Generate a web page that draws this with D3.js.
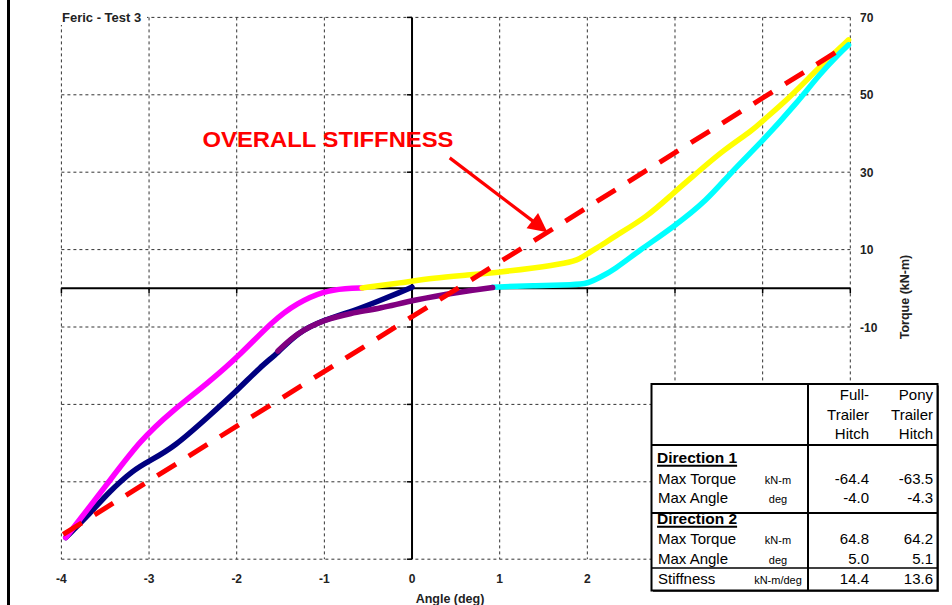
<!DOCTYPE html>
<html>
<head>
<meta charset="utf-8">
<script src="https://cdn.jsdelivr.net/npm/d3@7"></script>
<style>
  html, body { margin: 0; padding: 0; background: #fff; }
  svg { display: block; font-family: Arial, "Liberation Sans", sans-serif; }
</style>
</head>
<body>
<svg id="chart" width="952" height="605"></svg>
<script>
// ---------------- DATA ----------------
const chartTitle = "Feric - Test 3";
const xAxisTitle = "Angle (deg)";
const yAxisTitle = "Torque (kN-m)";
const xTickLabels = [-4, -3, -2, -1, 0, 1, 2];
const yTickLabels = [70, 50, 30, 10, -10];
const xGridValues = [-4, -3, -2, -1, 1, 2, 3, 4, 5];
const yGridValues = [70, 50, 30, 10, -10, -30, -50, -70];

// Direction 1 loading (navy)
const navyX = [0.0, -0.13, -0.44, -0.70, -1.01, -1.31, -1.53, -1.73, -1.99, -2.33, -2.72, -2.98, -3.18, -3.47, -3.67, -3.95];
const navyY = [0.3, -1.0, -3.8, -6.1, -8.2, -11.5, -16.7, -20.3, -26.3, -33.3, -41.1, -44.4, -46.9, -52.9, -58.1, -64.4];
// Direction 1 unloading (magenta)
const magentaX = [-3.95, -3.47, -3.10, -2.72, -2.33, -1.96, -1.58, -1.31, -1.01, -0.75, -0.57];
const magentaY = [-64.4, -50.4, -39.2, -31.4, -24.5, -17.2, -8.2, -3.8, -0.7, 0.0, 0.1];
// Direction 2 loading (yellow)
const yellowX = [-0.57, -0.13, 0.25, 0.63, 1.01, 1.38, 1.77, 1.92, 2.03, 2.15, 2.30, 2.68, 2.98, 3.25, 3.55, 3.89, 4.01, 4.28, 4.58, 4.77, 4.98];
const yellowY = [0.1, 1.4, 2.7, 3.4, 4.2, 5.2, 6.5, 7.6, 9.4, 10.9, 13.3, 18.4, 24.6, 29.8, 35.7, 40.9, 43.5, 48.7, 55.6, 59.8, 64.2];
// Direction 2 unloading (cyan)
const cyanX = [4.98, 4.88, 4.66, 4.39, 4.01, 3.63, 3.37, 2.98, 2.60, 2.30, 2.15, 2.00, 1.86, 1.38, 0.92];
const cyanY = [62.9, 60.8, 55.6, 47.9, 38.3, 29.8, 22.8, 15.8, 9.9, 4.7, 2.9, 1.2, 0.9, 0.7, 0.3];
// Reloading (purple)
const purpleX = [0.92, 0.55, 0.02, -0.36, -0.70, -1.01, -1.31, -1.53];
const purpleY = [0.2, -0.9, -3.0, -5.2, -6.4, -8.2, -11.5, -16.2];
// Overall stiffness line (red dashed)
const overallX = [-3.98, 4.95];
const overallY = [-63.6, 62.6];

// Annotation
const annotationText = "OVERALL STIFFNESS";
const annotationAt = [-2.39, 36.4];
const arrowFrom = [0.43, 33.7];
const arrowTo = [1.545, 14.5];

// Table
const tableHeaders = [["Full-", "Trailer", "Hitch"], ["Pony", "Trailer", "Hitch"]];
const tableRows = [
  { label: "Direction 1", section: true },
  { label: "Max Torque", unit: "kN-m", full: "-64.4", pony: "-63.5" },
  { label: "Max Angle", unit: "deg", full: "-4.0", pony: "-4.3" },
  { label: "Direction 2", section: true },
  { label: "Max Torque", unit: "kN-m", full: "64.8", pony: "64.2" },
  { label: "Max Angle", unit: "deg", full: "5.0", pony: "5.1" },
  { label: "Stiffness", unit: "kN-m/deg", full: "14.4", pony: "13.6" }
];

// ---------------- DRAW ----------------
const svg = d3.select("#chart");
const x = d3.scaleLinear().domain([-4, 5]).range([61.4, 850.3]);
const y = d3.scaleLinear().domain([-70, 70]).range([559.2, 17.4]);

// left frame line
svg.append("rect").attr("x", 7).attr("y", 0).attr("width", 3).attr("height", 605).attr("fill", "#000");

// grid
const grid = svg.append("g").attr("stroke", "#333").attr("stroke-width", 1).attr("stroke-dasharray", "3,3");
grid.selectAll("line.v").data(xGridValues).join("line")
  .attr("x1", d => x(d)).attr("x2", d => x(d)).attr("y1", y(70)).attr("y2", y(-70));
grid.selectAll("line.h").data(yGridValues).join("line")
  .attr("x1", x(-4)).attr("x2", x(5)).attr("y1", d => y(d)).attr("y2", d => y(d));

// axes through zero
const axes = svg.append("g").attr("stroke", "#000").attr("stroke-width", 2);
axes.append("line").attr("x1", x(-4)).attr("x2", x(5)).attr("y1", y(0)).attr("y2", y(0));
axes.append("line").attr("x1", x(0)).attr("x2", x(0)).attr("y1", y(70)).attr("y2", y(-70));
axes.selectAll("line.tx").data(d3.range(-4, 6)).join("line")
  .attr("stroke-width", 1.5)
  .attr("x1", d => x(d)).attr("x2", d => x(d)).attr("y1", y(0)).attr("y2", y(0) + 5);
axes.selectAll("line.ty").data(yGridValues).join("line")
  .attr("stroke-width", 1.5)
  .attr("x1", x(0) - 5).attr("x2", x(0)).attr("y1", d => y(d)).attr("y2", d => y(d));

// tick labels
svg.append("g").selectAll("text").data(xTickLabels).join("text")
  .attr("x", d => x(d)).attr("y", 583).attr("text-anchor", "middle")
  .attr("font-size", 12).attr("font-weight", "bold").attr("fill", "#222")
  .text(d => d);
svg.append("g").selectAll("text").data(yTickLabels).join("text")
  .attr("x", 860).attr("y", d => y(d) + 4.5).attr("text-anchor", "start")
  .attr("font-size", 12).attr("font-weight", "bold").attr("fill", "#222")
  .text(d => d);

// axis titles
svg.append("text").attr("x", 450).attr("y", 603).attr("text-anchor", "middle")
  .attr("font-size", 12.5).attr("font-weight", "bold").attr("fill", "#222").text(xAxisTitle);
svg.append("text").attr("transform", "translate(909,297) rotate(-90)").attr("text-anchor", "middle")
  .attr("font-size", 12.5).attr("font-weight", "bold").attr("fill", "#222").text(yAxisTitle);

// title
svg.append("rect").attr("x", 59).attr("y", 8).attr("width", 88).attr("height", 17).attr("fill", "#fff");
svg.append("text").attr("x", 62).attr("y", 21.5).attr("font-size", 13).attr("font-weight", "bold")
  .attr("fill", "#222").text(chartTitle);

// curves
const line = d3.line().x(d => x(d[0])).y(d => y(d[1])).curve(d3.curveBasis);
const series = [
  { xs: navyX, ys: navyY, color: "#000080" },
  { xs: magentaX, ys: magentaY, color: "#FF00FF" },
  { xs: yellowX, ys: yellowY, color: "#FFFF00" },
  { xs: cyanX, ys: cyanY, color: "#00FFFF" },
  { xs: purpleX, ys: purpleY, color: "#800080" }
];
svg.append("g").selectAll("path").data(series).join("path")
  .attr("d", s => line(s.xs.map((v, i) => [v, s.ys[i]])))
  .attr("fill", "none").attr("stroke", s => s.color).attr("stroke-width", 5.5)
  .attr("stroke-linecap", "round").attr("stroke-linejoin", "round");

// overall stiffness dashed line
svg.append("path")
  .attr("d", d3.line().x(d => x(d[0])).y(d => y(d[1]))(overallX.map((v, i) => [v, overallY[i]])))
  .attr("fill", "none").attr("stroke", "#FF0000").attr("stroke-width", 5)
  .attr("stroke-dasharray", "22,15");

// annotation
svg.append("text").attr("x", x(annotationAt[0])).attr("y", y(annotationAt[1]))
  .attr("font-size", 22).attr("font-weight", "bold").attr("fill", "#FF0000")
  .attr("textLength", 251).attr("lengthAdjust", "spacingAndGlyphs")
  .text(annotationText);
{
  const x1 = x(arrowFrom[0]), y1 = y(arrowFrom[1]), x2 = x(arrowTo[0]), y2 = y(arrowTo[1]);
  const dx = x2 - x1, dy = y2 - y1, L = Math.hypot(dx, dy), ux = dx / L, uy = dy / L;
  const hl = 19, hw = 9.5;
  const bx = x2 - ux * hl, by = y2 - uy * hl;
  svg.append("line").attr("x1", x1).attr("y1", y1).attr("x2", bx + ux * 2).attr("y2", by + uy * 2)
    .attr("stroke", "#FF0000").attr("stroke-width", 3.2);
  svg.append("path")
    .attr("d", `M${x2},${y2}L${bx - uy * hw},${by + ux * hw}L${bx + uy * hw},${by - ux * hw}Z`)
    .attr("fill", "#FF0000");
}

// table
const T = { left: 651.5, right: 937.5, top: 384, bottom: 590.5, div: 808, c1: 869, c2: 933, lab: 657, unit: 778 };
const tbl = svg.append("g");
tbl.append("rect").attr("x", T.left + 1.5).attr("y", T.top + 1.5).attr("width", T.right - T.left).attr("height", T.bottom - T.top)
  .attr("fill", "#555");
tbl.append("rect").attr("x", T.left).attr("y", T.top).attr("width", T.right - T.left).attr("height", T.bottom - T.top)
  .attr("fill", "#fff").attr("stroke", "#000").attr("stroke-width", 2);
tbl.append("line").attr("x1", T.div).attr("x2", T.div).attr("y1", T.top).attr("y2", T.bottom).attr("stroke", "#000").attr("stroke-width", 2);
[[445, 2], [513, 2], [568, 1.5]].forEach(([yy, w]) => {
  tbl.append("line").attr("x1", T.left).attr("x2", T.right).attr("y1", yy).attr("y2", yy).attr("stroke", "#000").attr("stroke-width", w);
});
const headY = [395, 415, 434];
tableHeaders.forEach((col, ci) => {
  col.forEach((t, ri) => {
    tbl.append("text").attr("x", ci === 0 ? T.c1 : T.c2).attr("y", headY[ri] + 5.3)
      .attr("text-anchor", "end").attr("font-size", 15).attr("fill", "#000").text(t);
  });
});
const rowY = [458, 479, 498, 519, 539, 559, 579];
tableRows.forEach((r, i) => {
  const yy = rowY[i] + 5.3;
  if (r.section) {
    const t = tbl.append("text").attr("x", T.lab).attr("y", yy).attr("font-size", 15.5)
      .attr("font-weight", "bold").attr("fill", "#000").text(r.label);
    const w = t.node().getComputedTextLength();
    tbl.append("line").attr("x1", T.lab).attr("x2", T.lab + w).attr("y1", yy + 2.5).attr("y2", yy + 2.5)
      .attr("stroke", "#000").attr("stroke-width", 2);
  } else {
    tbl.append("text").attr("x", T.lab + 1).attr("y", yy).attr("font-size", 15).attr("fill", "#000").text(r.label);
    tbl.append("text").attr("x", T.unit).attr("y", yy - 0.5).attr("text-anchor", "middle").attr("font-size", 11)
      .attr("fill", "#000").text(r.unit);
    tbl.append("text").attr("x", T.c1).attr("y", yy).attr("text-anchor", "end").attr("font-size", 15).attr("fill", "#000").text(r.full);
    tbl.append("text").attr("x", T.c2).attr("y", yy).attr("text-anchor", "end").attr("font-size", 15).attr("fill", "#000").text(r.pony);
  }
});
</script>
</body>
</html>
